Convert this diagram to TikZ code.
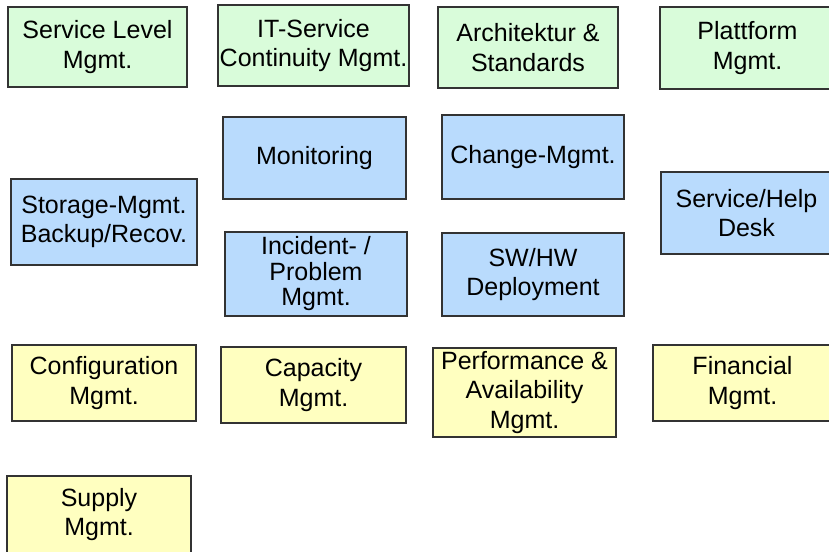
\documentclass[tikz,border=0pt]{standalone}
\usepackage{fontspec}
\setmainfont{Liberation Sans}
\definecolor{gfill}{HTML}{D9FCDA}
\definecolor{bfill}{HTML}{B9DBFD}
\definecolor{yfill}{HTML}{FFFFC0}
\definecolor{edge}{HTML}{333333}
\tikzset{
  box/.style={draw=edge, line width=1.3pt, inner sep=0pt, align=center,
    font=\fontsize{25}{29.5}\selectfont, text=black},
  gbox/.style={box, fill=gfill},
  bbox/.style={box, fill=bfill},
  ybox/.style={box, fill=yfill},
  tight/.style={font=\fontsize{25}{25.5}\selectfont},
}
\begin{document}
\begin{tikzpicture}[x=1pt,y=-1pt]
\clip (0,0) rectangle (829,551);
\fill[white] (0,0) rectangle (829,551);
% green row
\node[gbox, minimum width=179pt, minimum height=80pt] (sl) at (97.5,47) {Service Level\\Mgmt.};
\node[gbox, minimum width=191pt, minimum height=81pt] (itsc) at (313.5,45.5) {IT-Service\\Continuity Mgmt.};
\node[gbox, minimum width=180pt, minimum height=81pt] (arch) at (528,47.5) {Architektur \&\\Standards};
\node[gbox, minimum width=175pt, minimum height=82pt] (plat) at (747.5,48) {Plattform\\Mgmt.};
% blue
\node[bbox, minimum width=183pt, minimum height=82pt] (mon) at (314.5,158) {Monitoring};
\node[bbox, minimum width=182pt, minimum height=84pt] (chg) at (533,157) {Change-Mgmt.};
\node[bbox, minimum width=186pt, minimum height=86pt] (stor) at (104,222) {Storage-Mgmt.\\Backup/Recov.};
\node[bbox, tight, minimum width=182pt, minimum height=84pt] (inc) at (316,274) {Incident- /\\Problem\\Mgmt.};
\node[bbox, minimum width=182pt, minimum height=83pt] (sw) at (533,274.5) {SW/HW\\Deployment};
\node[bbox, minimum width=171pt, minimum height=82pt] (desk) at (746.5,213) {Service/Help\\Desk};
% yellow
\node[ybox, minimum width=184pt, minimum height=76pt] (conf) at (104,383) {Configuration\\Mgmt.};
\node[ybox, minimum width=185pt, minimum height=76pt] (cap) at (313.5,385) {Capacity\\Mgmt.};
\node[ybox, minimum width=183pt, minimum height=89pt] (perf) at (524.5,392.5) {Performance \&\\Availability\\Mgmt.};
\node[ybox, minimum width=179pt, minimum height=76pt] (fin) at (742.5,383) {Financial\\Mgmt.};
\node[ybox, minimum width=184pt, minimum height=77pt] (sup) at (99,514.5) {Supply\\Mgmt.};
\end{tikzpicture}
\end{document}
